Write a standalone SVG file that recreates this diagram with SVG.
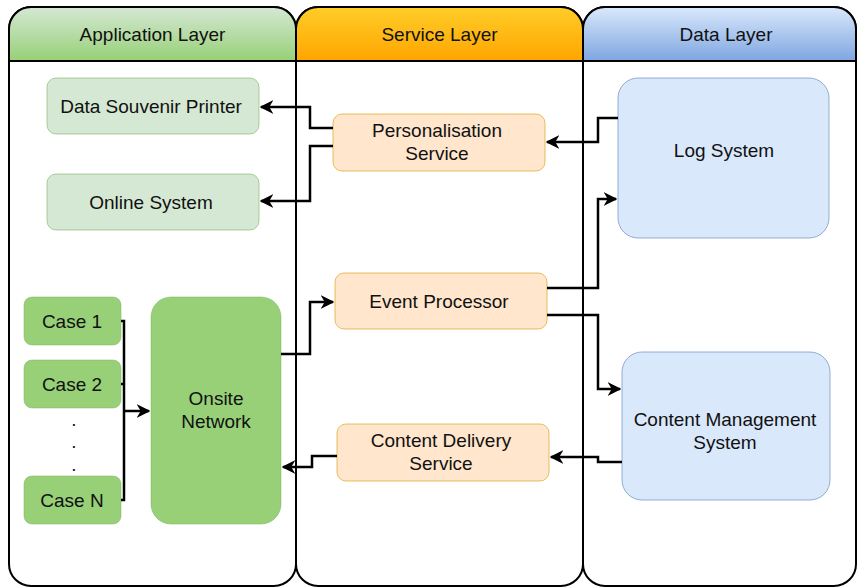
<svg xmlns="http://www.w3.org/2000/svg" width="858" height="588" viewBox="0 0 858 588">
<style>
.lane{fill:#fff;stroke:#000;stroke-width:2}
.hdr{stroke:#000;stroke-width:2}
.t{font-family:"Liberation Sans",Arial,sans-serif;font-size:19px;fill:#111;text-anchor:middle;dominant-baseline:central}
.lg{fill:#d5e8d4;stroke:#82b366;stroke-opacity:0.6}
.dg{fill:#97d077;stroke:#82b366;stroke-opacity:0.5}
.or{fill:#ffe6cc;stroke:#d79b00;stroke-opacity:0.6}
.bl{fill:#dae8fc;stroke:#6c8ebf;stroke-opacity:0.7}
.c{fill:none;stroke:#000;stroke-width:2.5}
</style>
<defs>
<linearGradient id="gG" x1="0" y1="0" x2="0" y2="1"><stop offset="0" stop-color="#d5e8d4"/><stop offset="1" stop-color="#97d077"/></linearGradient>
<linearGradient id="gO" x1="0" y1="0" x2="0" y2="1"><stop offset="0" stop-color="#ffcd28"/><stop offset="1" stop-color="#ffa500"/></linearGradient>
<linearGradient id="gB" x1="0" y1="0" x2="0" y2="1"><stop offset="0" stop-color="#dae8fc"/><stop offset="1" stop-color="#7ea6e0"/></linearGradient>
<marker id="ar" viewBox="0 0 10 10" refX="9" refY="5" markerWidth="5.5" markerHeight="5.5" markerUnits="strokeWidth" orient="auto">
<path d="M0,0 L10,5 L0,10 L3,5 Z" fill="#000"/>
</marker>
</defs>

<g id="lane-app">
<rect class="lane" x="9" y="7" width="287" height="579" rx="22"/>
<path class="hdr" fill="url(#gG)" d="M9,61 V29 A22,22 0 0 1 31,7 H274 A22,22 0 0 1 296,29 V61 Z"/>
<text class="t" x="152.500" y="34">Application Layer</text>
</g>
<g id="lane-service">
<rect class="lane" x="296" y="7" width="287" height="579" rx="22"/>
<path class="hdr" fill="url(#gO)" d="M296,61 V29 A22,22 0 0 1 318,7 H561 A22,22 0 0 1 583,29 V61 Z"/>
<text class="t" x="439.500" y="34">Service Layer</text>
</g>
<g id="lane-data">
<rect class="lane" x="583" y="7" width="273" height="579" rx="22"/>
<path class="hdr" fill="url(#gB)" d="M583,61 V29 A22,22 0 0 1 605,7 H834 A22,22 0 0 1 856,29 V61 Z"/>
<text class="t" x="726" y="34">Data Layer</text>
</g>

<g id="n-dsp"><rect class="lg" x="47" y="78" width="212" height="56" rx="9"/><text class="t" x="151" y="106">Data Souvenir Printer</text></g>
<g id="n-online"><rect class="lg" x="47" y="174" width="212" height="56" rx="9"/><text class="t" x="151" y="202">Online System</text></g>
<g id="n-case1"><rect class="dg" x="24" y="297" width="97" height="48" rx="8"/><text class="t" x="72" y="321">Case 1</text></g>
<g id="n-case2"><rect class="dg" x="24" y="360" width="97" height="48" rx="8"/><text class="t" x="72" y="384">Case 2</text></g>
<g id="n-dots"><text class="t" x="74" y="419">.</text><text class="t" x="74" y="441">.</text><text class="t" x="74" y="464">.</text></g>
<g id="n-caseN"><rect class="dg" x="24" y="476" width="97" height="48" rx="8"/><text class="t" x="72" y="500">Case N</text></g>
<g id="n-onsite"><rect class="dg" x="151" y="297" width="130" height="227" rx="20"/><text class="t" x="216" y="398">Onsite</text><text class="t" x="216" y="421">Network</text></g>

<g id="n-pers"><rect class="or" x="333" y="114" width="212" height="57" rx="9"/><text class="t" x="437" y="130">Personalisation</text><text class="t" x="437" y="153">Service</text></g>
<g id="n-event"><rect class="or" x="335" y="273" width="212" height="56" rx="9"/><text class="t" x="439" y="301">Event Processor</text></g>
<g id="n-cds"><rect class="or" x="337" y="424" width="212" height="57" rx="9"/><text class="t" x="441" y="440">Content Delivery</text><text class="t" x="441" y="463">Service</text></g>

<g id="n-log"><rect class="bl" x="618" y="78" width="211" height="160" rx="20"/><text class="t" x="724" y="150">Log System</text></g>
<g id="n-cms"><rect class="bl" x="622" y="352" width="208" height="148" rx="20"/><text class="t" x="725" y="419">Content Management</text><text class="t" x="725" y="442">System</text></g>

<g id="connectors">
<path class="c" d="M333,128 H310 V107 H261" marker-end="url(#ar)"/>
<path class="c" d="M333,146 H310 V201 H261" marker-end="url(#ar)"/>
<path class="c" d="M618,118 H598 V142 H547" marker-end="url(#ar)"/>
<path class="c" d="M547,288 H598 V199 H616" marker-end="url(#ar)"/>
<path class="c" d="M547,315 H598 V389 H620" marker-end="url(#ar)"/>
<path class="c" d="M622,462 H598 V457 H551" marker-end="url(#ar)"/>
<path class="c" d="M337,456 H312 V467 H283" marker-end="url(#ar)"/>
<path class="c" d="M281,354 H310 V302 H333" marker-end="url(#ar)"/>
<path class="c" d="M121,321 H124 V500 H121 M121,384 H124"/>
<path class="c" d="M124,411 H149" marker-end="url(#ar)"/>
</g>
</svg>
